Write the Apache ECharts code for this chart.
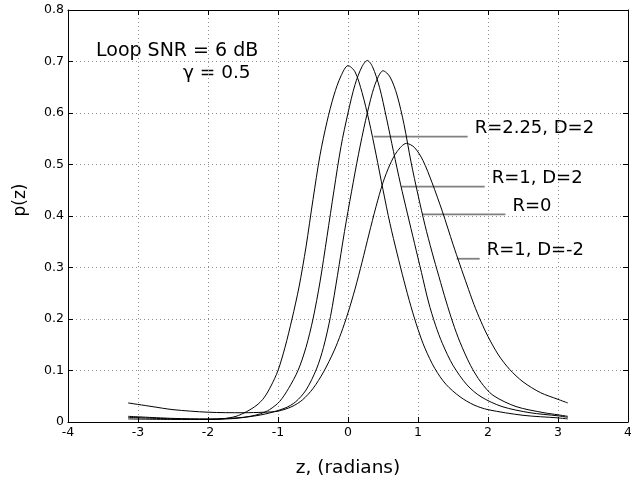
<!DOCTYPE html>
<html>
<head>
<meta charset="utf-8">
<script src="https://cdn.jsdelivr.net/npm/echarts@6/dist/echarts.min.js"></script>
<style>html,body{margin:0;padding:0;background:#fff}#c{width:631px;height:478px}</style>
</head>
<body>
<div id="c"></div>
<script>
// ---- data ----
const xTicks = [-4, -3, -2, -1, 0, 1, 2, 3, 4];
const yTicks = [0, 0.1, 0.2, 0.3, 0.4, 0.5, 0.6, 0.7, 0.8];

// R=2.25, D=2
const zA = [-3.14, -2.5, -2.0, -1.8, -1.6, -1.45, -1.3, -1.2, -1.1, -1.0, -0.9, -0.8, -0.7, -0.6, -0.5, -0.4, -0.3, -0.2, -0.1, 0, 0.1, 0.2, 0.3, 0.4, 0.5, 0.6, 0.7, 0.8, 0.9, 1.0, 1.1, 1.24, 1.4, 1.6, 1.8, 2.0, 2.5, 3.0, 3.14];
const pA = [0.006, 0.005, 0.005, 0.006, 0.011, 0.02, 0.033, 0.047, 0.07, 0.1, 0.145, 0.2, 0.262, 0.34, 0.432, 0.518, 0.583, 0.635, 0.672, 0.692, 0.68, 0.64, 0.585, 0.52, 0.451, 0.385, 0.328, 0.274, 0.224, 0.18, 0.143, 0.104, 0.073, 0.049, 0.033, 0.024, 0.013, 0.008, 0.006];

// R=1, D=2
const zB = [-3.14, -2.5, -2.0, -1.6, -1.4, -1.25, -1.12, -0.976, -0.85, -0.714, -0.6, -0.5, -0.4, -0.3, -0.2, -0.1, 0.0, 0.1, 0.2, 0.276, 0.35, 0.45, 0.55, 0.65, 0.75, 0.85, 0.95, 1.05, 1.15, 1.25, 1.35, 1.5, 1.7, 1.9, 2.2, 2.6, 3.0, 3.14];
const pB = [0.009, 0.006, 0.005, 0.007, 0.011, 0.016, 0.024, 0.04, 0.065, 0.1, 0.145, 0.2, 0.272, 0.36, 0.45, 0.535, 0.6, 0.655, 0.69, 0.702, 0.69, 0.65, 0.59, 0.525, 0.462, 0.404, 0.347, 0.29, 0.233, 0.188, 0.152, 0.11, 0.072, 0.049, 0.03, 0.018, 0.012, 0.009];

// R=0
const zC = [-3.14, -2.5, -2.0, -1.5, -1.2, -0.9, -0.75, -0.6, -0.45, -0.35, -0.25, -0.15, -0.05, 0.05, 0.15, 0.25, 0.35, 0.43, 0.5, 0.6, 0.7, 0.8, 0.9, 1.0, 1.1, 1.2, 1.3, 1.4, 1.5, 1.6, 1.75, 1.9, 2.07, 2.4, 2.8, 3.0, 3.14];
const pC = [0.011, 0.007, 0.006, 0.009, 0.015, 0.027, 0.039, 0.062, 0.103, 0.145, 0.205, 0.285, 0.37, 0.447, 0.52, 0.585, 0.64, 0.67, 0.682, 0.67, 0.635, 0.578, 0.505, 0.441, 0.382, 0.33, 0.282, 0.235, 0.192, 0.155, 0.11, 0.077, 0.052, 0.03, 0.018, 0.014, 0.011];

// R=1, D=-2
const zD = [-3.14, -2.8, -2.5, -2.0, -1.5, -1.2, -1.0, -0.8, -0.65, -0.5, -0.35, -0.2, -0.1, 0.0, 0.1, 0.2, 0.3, 0.4, 0.5, 0.6, 0.7, 0.834, 0.95, 1.07, 1.2, 1.35, 1.5, 1.6, 1.7, 1.8, 1.9, 2.0, 2.15, 2.31, 2.5, 2.75, 3.0, 3.14];
const pD = [0.037, 0.030, 0.024, 0.019, 0.018, 0.019, 0.021, 0.03, 0.043, 0.065, 0.097, 0.138, 0.172, 0.212, 0.258, 0.31, 0.365, 0.418, 0.465, 0.5, 0.525, 0.541, 0.533, 0.508, 0.465, 0.408, 0.345, 0.305, 0.266, 0.228, 0.195, 0.166, 0.13, 0.102, 0.078, 0.057, 0.044, 0.037];

// annotation labels and their leader lines (z start, z end, p)
const labelNames = ['R=2.25, D=2', 'R=1, D=2', 'R=0', 'R=1, D=-2'];
const leaderZ0 = [0.366, 0.763, 1.063, 1.553];
const leaderZ1 = [1.709, 1.953, 2.249, 1.881];
const leaderP = [0.554, 0.457, 0.403, 0.317];

const FONT = "'DejaVu Sans', sans-serif";
const pair = (zs, ps) => zs.map((z, i) => [z, ps[i]]);

const curves = [pair(zA, pA), pair(zB, pB), pair(zC, pC), pair(zD, pD)];

const series = curves.map((d, i) => ({
  name: labelNames[i],
  type: 'line',
  data: d,
  showSymbol: false,
  smooth: 0.3,
  lineStyle: { color: '#000', width: 1 },
  z: 3
}));

labelNames.forEach((nm, i) => {
  series.push({
    name: nm + ' label',
    type: 'line',
    data: [[leaderZ0[i], leaderP[i]], [leaderZ1[i], leaderP[i]]],
    showSymbol: false,
    lineStyle: { color: '#808080', width: 1.8 },
    z: 2,
    endLabel: {
      show: true,
      formatter: nm,
      color: '#000',
      fontFamily: FONT,
      fontSize: 18,
      distance: 7,
      offset: [0, -8]
    }
  });
});

const chart = echarts.init(document.getElementById('c'), null, { renderer: 'canvas' });
chart.setOption({
  animation: false,
  backgroundColor: '#fff',
  grid: { left: 68, right: 3, top: 10, bottom: 56, containLabel: false, outerBoundsMode: 'none' },
  xAxis: [{
    type: 'value', min: xTicks[0], max: xTicks[xTicks.length - 1], interval: 1,
    name: 'z, (radians)', nameLocation: 'middle', nameGap: 37,
    nameTextStyle: { color: '#000', fontFamily: FONT, fontSize: 18.5 },
    axisLine: { show: true, onZero: false, lineStyle: { color: '#000', width: 1 } },
    axisTick: { show: true, inside: true, length: 5, lineStyle: { color: '#000' } },
    axisLabel: { color: '#000', fontFamily: FONT, fontSize: 12.5, margin: 4 },
    splitLine: { show: true, lineStyle: { color: '#909090', type: [1, 3], width: 1 } }
  }, {
    type: 'value', position: 'top', min: xTicks[0], max: xTicks[xTicks.length - 1], interval: 1,
    axisLine: { show: true, onZero: false, lineStyle: { color: '#000', width: 1 } },
    axisTick: { show: true, inside: true, length: 5, lineStyle: { color: '#000' } },
    axisLabel: { show: false }, splitLine: { show: false }
  }],
  yAxis: [{
    type: 'value', min: yTicks[0], max: yTicks[yTicks.length - 1], interval: 0.1,
    name: 'p(z)', nameLocation: 'middle', nameGap: 39,
    nameTextStyle: { color: '#000', fontFamily: FONT, fontSize: 17, padding: [0, 0, 0, 32] },
    axisLine: { show: true, onZero: false, lineStyle: { color: '#000', width: 1 } },
    axisTick: { show: true, inside: true, length: 5, lineStyle: { color: '#000' } },
    axisLabel: { color: '#000', fontFamily: FONT, fontSize: 12.5, margin: 4 },
    splitLine: { show: true, lineStyle: { color: '#909090', type: [1, 3], width: 1 } }
  }, {
    type: 'value', position: 'right', min: yTicks[0], max: yTicks[yTicks.length - 1], interval: 0.1,
    axisLine: { show: true, onZero: false, lineStyle: { color: '#000', width: 1 } },
    axisTick: { show: true, inside: true, length: 5, lineStyle: { color: '#000' } },
    axisLabel: { show: false }, splitLine: { show: false }
  }],
  graphic: [
    { type: 'text', x: 96, y: 51, style: { text: 'Loop SNR = 6 dB', fill: '#000', fontFamily: FONT, fontSize: 19, verticalAlign: 'middle', align: 'left' } },
    { type: 'text', x: 183, y: 73, style: { text: 'γ = 0.5', fill: '#000', fontFamily: FONT, fontSize: 18.5, verticalAlign: 'middle', align: 'left' } }
  ],
  series: series
});
</script>
</body>
</html>
